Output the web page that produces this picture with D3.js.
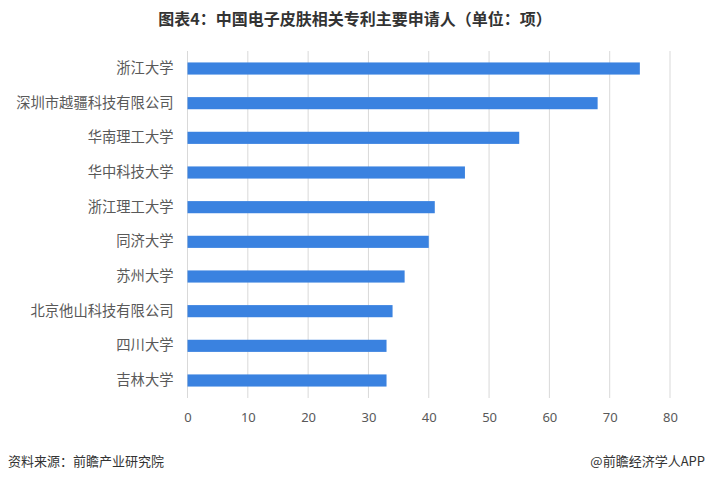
<!DOCTYPE html>
<html>
<head>
<meta charset="utf-8">
<script src="https://cdn.jsdelivr.net/npm/d3@7"></script>
<style>
  body { margin: 0; background: #fff; }
  svg { display: block; font-family: "Noto Sans CJK SC", "Noto Sans", sans-serif; }
</style>
</head>
<body>
<script>
// applicants, top to bottom
var applicants = ['浙江大学', '深圳市越疆科技有限公司', '华南理工大学', '华中科技大学', '浙江理工大学',
                  '同济大学', '苏州大学', '北京他山科技有限公司', '四川大学', '吉林大学'];
var patents = [75, 68, 55, 46, 41, 40, 36, 34, 33, 33];
var xTicks = [0, 10, 20, 30, 40, 50, 60, 70, 80];

var width = 707, height = 480;
var margin = { top: 51, right: 37, bottom: 82, left: 187.5 };

var svg = d3.select('body').append('svg')
            .attr('width', width).attr('height', height);

var x = d3.scaleLinear().domain([0, 80]).range([margin.left, width - margin.right]);
var y = d3.scaleBand().domain(applicants)
          .range([margin.top, height - margin.bottom])
          .paddingInner(0.65).paddingOuter(0.33);

// title
svg.append('text')
   .attr('x', 355).attr('y', 25)
   .attr('text-anchor', 'middle')
   .attr('font-size', 16).attr('font-weight', 'bold').attr('fill', '#333')
   .text('图表4：中国电子皮肤相关专利主要申请人（单位：项）');

// vertical grid
svg.append('g').selectAll('line')
   .data(xTicks).enter().append('line')
   .attr('x1', function(d){ return x(d); }).attr('x2', function(d){ return x(d); })
   .attr('y1', margin.top).attr('y2', height - margin.bottom)
   .attr('stroke', '#d9d9d9').attr('stroke-width', 1);

// bars
svg.append('g').selectAll('rect')
   .data(patents).enter().append('rect')
   .attr('x', x(0))
   .attr('y', function(d, i){ return y(applicants[i]); })
   .attr('width', function(d){ return x(d) - x(0); })
   .attr('height', y.bandwidth())
   .attr('fill', '#3a82e0');

// y labels
var yAxis = svg.append('g')
   .attr('transform', 'translate(' + x(0) + ',0)')
   .call(d3.axisLeft(y).tickSize(0).tickPadding(14));
yAxis.select('.domain').remove();
yAxis.selectAll('text').attr('font-size', 14.3).attr('fill', '#595959')
     .attr('font-family', '"Noto Sans CJK SC", sans-serif');

// x labels
var xAxis = svg.append('g')
   .attr('transform', 'translate(0,' + (height - margin.bottom) + ')')
   .call(d3.axisBottom(x).tickValues(xTicks).tickSize(0).tickPadding(15));
xAxis.select('.domain').remove();
xAxis.selectAll('text').attr('font-size', 13).attr('fill', '#595959')
     .attr('font-family', '"Noto Sans", sans-serif');

// footer
svg.append('text')
   .attr('x', 8).attr('y', 466)
   .attr('font-size', 13).attr('fill', '#333')
   .text('资料来源：前瞻产业研究院');
svg.append('text')
   .attr('x', 705).attr('y', 466)
   .attr('text-anchor', 'end')
   .attr('font-size', 13).attr('fill', '#333')
   .text('@前瞻经济学人APP');
</script>
</body>
</html>
